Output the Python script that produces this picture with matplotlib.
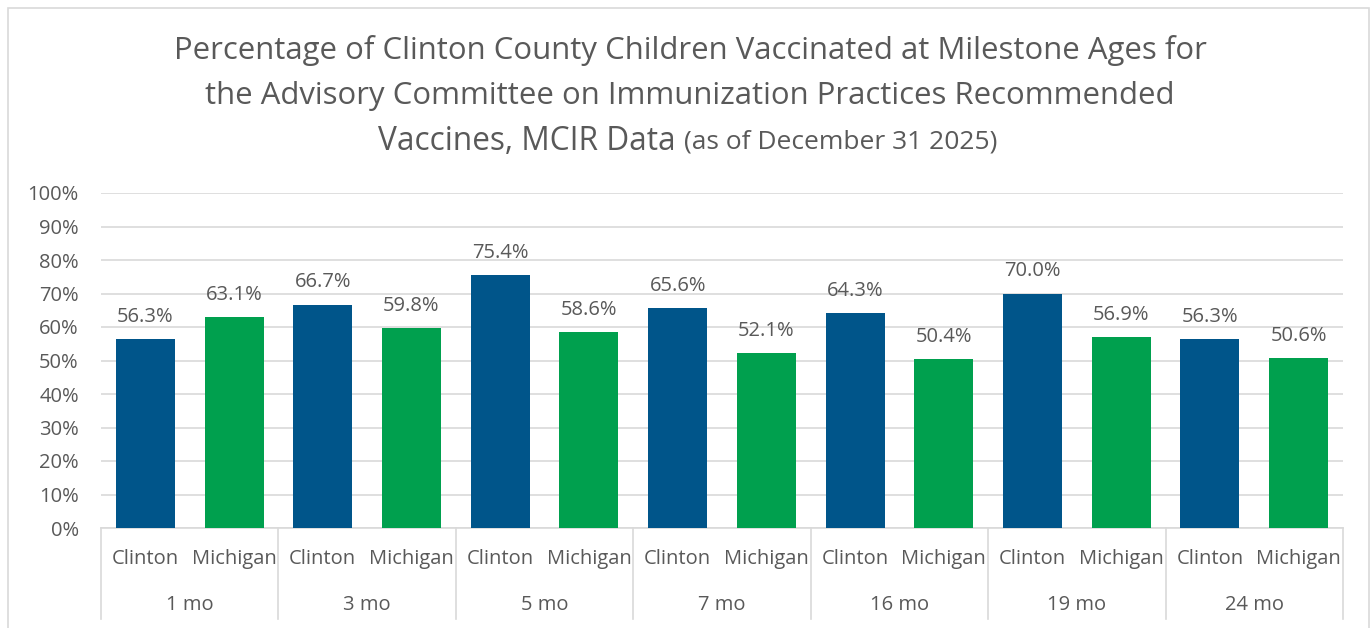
import numpy as np
import matplotlib
matplotlib.use('Agg')
import matplotlib.pyplot as plt
from matplotlib.patches import Rectangle
import matplotlib.transforms as mtrans

ages = ['1 mo', '3 mo', '5 mo', '7 mo', '16 mo', '19 mo', '24 mo']
areas = ['Clinton', 'Michigan']
clinton = [56.3, 66.7, 75.4, 65.6, 64.3, 70.0, 56.3]
michigan = [63.1, 59.8, 58.6, 52.1, 50.4, 56.9, 50.6]

blue = '#00558A'
green = '#00A04E'
grey = '#595959'
line_c = '#D9D9D9'

plt.rcParams['font.family'] = ['Open Sans', 'DejaVu Sans']

W, H = 1371, 628
fig = plt.figure(figsize=(W / 100, H / 100), dpi=100)

# outer chart border
fig.patches.append(Rectangle((8 / W, -0.01), (1369 - 8) / W, (H - 8) / H + 0.01,
                             transform=fig.transFigure, fill=False,
                             edgecolor=line_c, linewidth=1.2))

ax = fig.add_axes([101 / W, 1 - 528 / H, (1343 - 101) / W, (528 - 193) / H])

n = len(ages)
pos = np.arange(n * 2)
vals = []
cols = []
for c, m in zip(clinton, michigan):
    vals += [c, m]
    cols += [blue, green]

bars = ax.bar(pos, vals, width=0.665, color=cols, zorder=3)
for x, v in zip(pos, vals):
    ax.text(x, v + 3.6, f'{v:.1f}%', ha='center', va='bottom',
            fontsize=14.5, color=grey)

ax.set_xlim(-0.5, n * 2 - 0.5)
ax.set_ylim(0, 100)
ax.set_yticks(np.arange(0, 101, 10))
ax.set_yticklabels([f'{t}%' for t in range(0, 101, 10)], fontsize=14.5, color=grey)
ax.tick_params(axis='y', length=0, pad=16)
ax.set_xticks([])
ax.grid(axis='y', color=line_c, linewidth=1.2, zorder=0)
for s in ['top', 'right', 'left']:
    ax.spines[s].set_visible(False)
ax.spines['bottom'].set_color(line_c)
ax.spines['bottom'].set_linewidth(1.2)

# two-level category axis
tr = mtrans.blended_transform_factory(ax.transData, ax.transAxes)
for x in pos:
    ax.text(x, -0.092, areas[x % 2], transform=tr, ha='center', va='center',
            fontsize=14.5, color=grey)
for i, a in enumerate(ages):
    ax.text(2 * i + 0.5, -0.23, a, transform=tr, ha='center', va='center',
            fontsize=14.5, color=grey)
for b in range(n + 1):
    ax.plot([2 * b - 0.5, 2 * b - 0.5], [0, -0.272], transform=tr,
            color=line_c, linewidth=1.2, clip_on=False)

# title
fig.text(690 / W, 1 - 50 / H, 'Percentage of Clinton County Children Vaccinated at Milestone Ages for',
         ha='center', va='center', fontsize=22.4, color=grey)
fig.text(690 / W, 1 - 96 / H, 'the Advisory Committee on Immunization Practices Recommended',
         ha='center', va='center', fontsize=22.4, color=grey)
fig.text(676 / W, 1 - 141 / H, 'Vaccines, MCIR Data', ha='right', va='center',
         fontsize=22.8, color=grey)
fig.text(684 / W, 1 - 142 / H, '(as of December 31 2025)', ha='left', va='center',
         fontsize=19, color=grey)

fig.savefig('out.png', dpi=100)
